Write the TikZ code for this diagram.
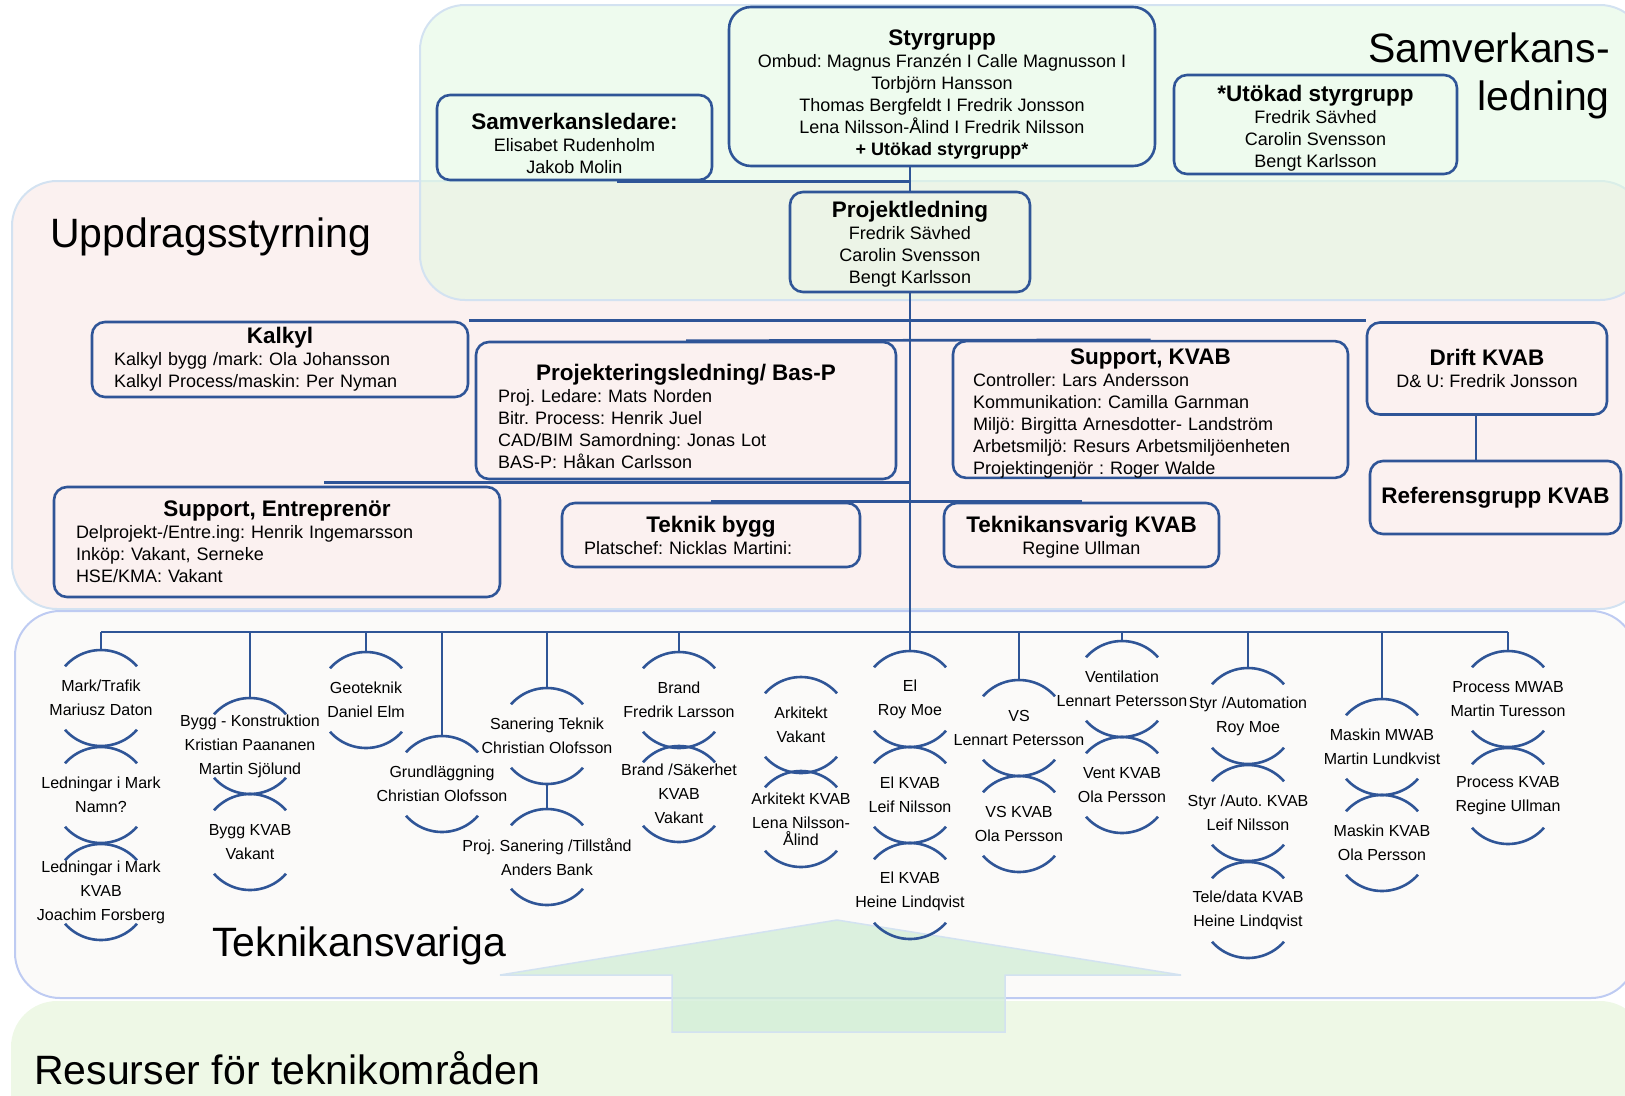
\documentclass[tikz,border=0pt]{standalone}
\usepackage{fontspec}
\setmainfont{Liberation Sans}
\frenchspacing
\usetikzlibrary{positioning,calc}
\definecolor{kvBlue}{HTML}{2F5597}
\definecolor{kvPink}{HTML}{FBF1F0}
\definecolor{kvMint}{RGB}{225,248,225}
\definecolor{kvGrey}{HTML}{FBFAF9}
\definecolor{kvGreen}{HTML}{EEF8E6}
\definecolor{kvEdge}{HTML}{D3E2F1}
\definecolor{kvArrow}{HTML}{D3EED8}
\tikzset{
  box/.style={draw=kvBlue, line width=2.6pt, rounded corners=13pt, align=center,
              font=\fontsize{18}{22}\selectfont, inner sep=0pt},
  lbox/.style={box, align=left, inner xsep=22pt},
  tech/.style={font=\fontsize{16}{24}\selectfont, align=center, inner sep=0pt},
  arcline/.style={draw=kvBlue, line width=2.6pt},
  link/.style={draw=kvBlue, line width=2.6pt},
  panel/.style={rounded corners=45pt, line width=2pt, draw=kvEdge},
  biglbl/.style={font=\fontsize{41}{48}\selectfont, inner sep=0pt},
}
\newcommand{\ttl}[1]{{\fontsize{22.5}{26}\selectfont\bfseries #1}}
\newcommand{\ctitle}[1]{\hfill\ttl{#1}\hfill\null\\}
\newcommand{\lift}[1]{\rule{0pt}{#1pt}}

\begin{document}
\begin{tikzpicture}[x=1pt,y=1pt]
\useasboundingbox (0,0) rectangle (1625,-1095);
\clip (0,0) rectangle (1625,-1095);
% background panels
\draw[panel,fill=kvPink] (12,-181) rectangle (1645,-609);
\draw[panel,fill=kvMint,fill opacity=.56] (420,-5) rectangle (1645,-300);
\draw[panel,fill=kvGrey,draw=kvEdge!90!blue] (15,-611) rectangle (1636,-998);
\draw[panel,fill=kvGreen,draw=kvGreen] (12,-1002) rectangle (1645,-1140);
\draw[fill=kvArrow,fill opacity=.8,draw=kvEdge,line width=1.5pt]
  (837,-920) -- (1181,-975) -- (1005,-975) -- (1005,-1032) -- (672,-1032)
  -- (672,-975) -- (500,-975) -- cycle;

% Samverkansledning
\node[box,rounded corners=22pt,minimum width=426,minimum height=159] (sty) at (942,-86.5)
  {\ttl{\lift{32}Styrgrupp}\\Ombud: Magnus Franzén I Calle Magnusson I\\Torbjörn Hansson\\
   Thomas Bergfeldt I Fredrik Jonsson\\Lena Nilsson-Ålind I Fredrik Nilsson\\
   {\bfseries + Utökad styrgrupp*}};
\node[box,minimum width=275,minimum height=85] (sam) at (574.5,-137.5)
  {\ttl{\lift{28}Samverkansledare:}\\Elisabet Rudenholm\\Jakob Molin};
\node[box,minimum width=283,minimum height=99] (utok) at (1315.5,-124.5)
  {\ttl{\lift{24}*Utökad styrgrupp}\\Fredrik Sävhed\\Carolin Svensson\\Bengt Karlsson};
\node[box,minimum width=240,minimum height=100] (pl) at (910,-242)
  {\ttl{\lift{21}Projektledning}\\Fredrik Sävhed\\Carolin Svensson\\Bengt Karlsson};

% Uppdragsstyrning
\node[lbox,text width=332,minimum height=75] (kal) at (280,-359.5)
  {\ctitle{Kalkyl}Kalkyl bygg /mark: Ola Johansson\\Kalkyl Process/maskin: Per Nyman};
\node[lbox,text width=376,minimum height=137] (proj) at (686,-410.5)
  {\ctitle{\lift{28}Projekteringsledning/ Bas-P}Proj. Ledare: Mats Norden\\Bitr. Process: Henrik Juel\\
   CAD/BIM Samordning: Jonas Lot\\BAS-P: Håkan Carlsson};
\node[lbox,inner xsep=20pt,text width=355,minimum height=135] (supk) at (1150.5,-409.5)
  {\ctitle{\lift{23}Support, KVAB}Controller: Lars Andersson\\Kommunikation: Camilla Garnman\\
   Miljö: Birgitta Arnesdotter- Landström\\Arbetsmiljö: Resurs Arbetsmiljöenheten\\
   Projektingenjör : Roger Walde};
\node[box,minimum width=240,minimum height=92] (drift) at (1487,-368.5)
  {\ttl{Drift KVAB}\\D\& U: Fredrik Jonsson};
\node[box,minimum width=251,minimum height=73] (ref) at (1495.5,-497.5)
  {\ttl{Referensgrupp KVAB}};
\node[lbox,text width=402,minimum height=110] (supe) at (277,-542)
  {\ctitle{Support, Entreprenör}Delprojekt-/Entre.ing: Henrik Ingemarsson\\
   Inköp: Vakant, Serneke\\HSE/KMA: Vakant};
\node[lbox,text width=254,minimum height=64] (tb) at (711,-535)
  {\ctitle{Teknik bygg}Platschef: Nicklas Martini:};
\node[box,minimum width=275,minimum height=64] (tk) at (1081.5,-535)
  {\ttl{\lift{21}Teknikansvarig KVAB}\\Regine Ullman};

\coordinate (busL) at (101,-632);
\coordinate (busR) at (1508,-632);

\draw[link] (pl.north |- sty.south) -- (pl.north);
\draw[link] ([xshift=42pt]sam.south) -- (sam.south -| pl.north);
\draw[link] (pl.south) -- (pl.south |- busL);
\draw[link] (kal.north east) -- (kal.north east -| drift.west);
\draw[link] (proj.north) -- (supk.north);
\draw[link] ([xshift=47pt,yshift=3pt]supe.north) -- ([yshift=3pt]supe.north -| pl.south);
\draw[link] (tb.north) -- (tk.north);
\draw[link] ([xshift=-11pt]drift.south) -- ([xshift=-11pt]drift.south |- ref.north);

% Teknikansvariga
\draw[link] (busL) -- (busR);
\foreach \n/\x/\y/\t in {
  mark/101/698/{Mark/Trafik\\Mariusz Daton},
  ledn/101/795/{Ledningar i Mark\\Namn?},
  ledk/101/892/{Ledningar i Mark\\KVAB\\Joachim Forsberg},
  bkon/250/746/{Bygg - Konstruktion\\Kristian Paananen\\Martin Sjölund},
  bkv/250/842/{Bygg KVAB\\Vakant},
  geo/366/700/{Geoteknik\\Daniel Elm},
  grund/442/784/{Grundläggning\\Christian Olofsson},
  sant/547/736/{Sanering Teknik\\Christian Olofsson},
  sanp/547/857/{Proj. Sanering /Tillstånd\\Anders Bank},
  brand/679/700/{Brand\\Fredrik Larsson},
  brandk/679/794/{Brand /Säkerhet\\KVAB\\Vakant},
  ark/801/725/{Arkitekt\\Vakant},
  arkk/801/819/{Arkitekt KVAB\\Lena Nilsson-\\[-7pt]Ålind},
  el/910/699/{El\\Roy Moe},
  elk/910/795/{El KVAB\\Leif Nilsson},
  elh/910/891/{El KVAB\\Heine Lindqvist},
  vs/1019/728/{VS\\Lennart Petersson},
  vsk/1019/824/{VS KVAB\\Ola Persson},
  vent/1122/689/{Ventilation\\Lennart Petersson},
  ventk/1122/785/{Vent KVAB\\Ola Persson},
  styr/1248/716/{Styr /Automation\\Roy Moe},
  styrk/1248/813/{Styr /Auto. KVAB\\Leif Nilsson},
  tele/1248/910/{Tele/data KVAB\\Heine Lindqvist},
  mask/1382/747/{Maskin MWAB\\Martin Lundkvist},
  maskk/1382/843/{Maskin KVAB\\Ola Persson},
  proc/1508/699/{Process MWAB\\Martin Turesson},
  prock/1508/796/{Process KVAB\\Regine Ullman}}{
  \node[tech] (\n) at (\x,-\y) {\t};
  \draw[arcline] ([shift={(41.4:48)}]\n.center) arc[start angle=41.4,end angle=138.6,radius=48];
  \draw[arcline] ([shift={(221.4:48)}]\n.center) arc[start angle=221.4,end angle=318.6,radius=48];
}
\foreach \h in {mark,bkon,geo,grund,sant,brand,el,vs,vent,styr,mask,proc}
  \draw[link] (\h.center |- busL) -- ([yshift=48pt]\h.center);
\draw[link] ([yshift=-48pt]sant.center) -- ([yshift=48pt]sanp.center);

% area labels
\node[biglbl,align=right,anchor=east] (lblsam) at (1610,-76) {Samverkans-\\ledning};
\node[biglbl,anchor=west] (lblupp) at (50,-237) {Uppdragsstyrning};
\node[biglbl,anchor=west] (lbltek) at (212,-946) {Teknikansvariga};
\node[biglbl,anchor=west] (lblres) at (34,-1068) {Resurser för teknikområden};
\end{tikzpicture}
\end{document}
